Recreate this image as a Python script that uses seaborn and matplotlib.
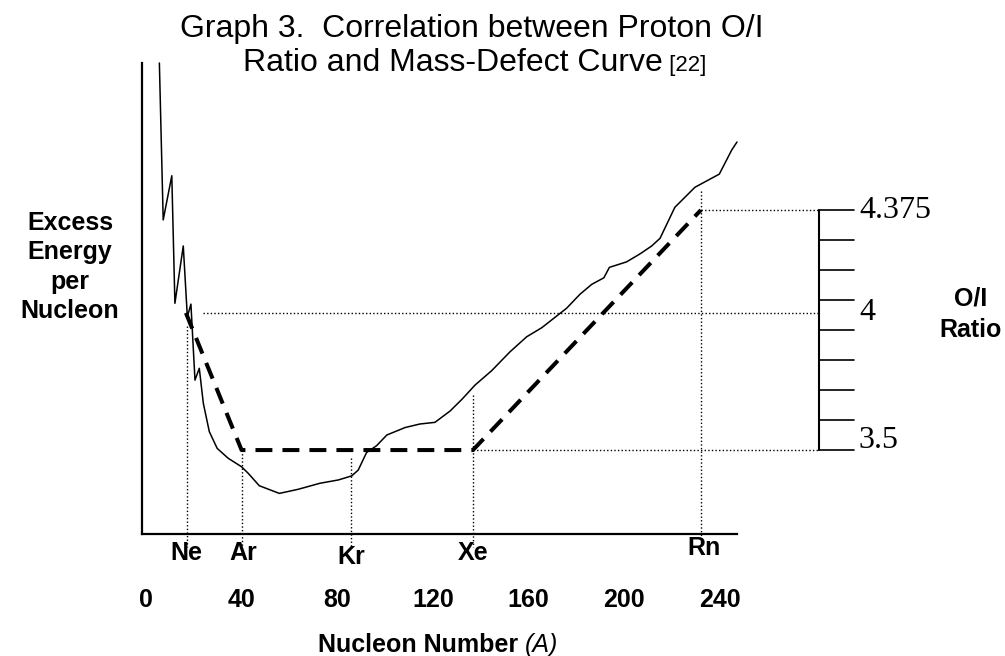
import matplotlib
matplotlib.use("Agg")
import matplotlib.pyplot as plt
import seaborn as sns
import pandas as pd

# ---- data ----
# mass-defect curve (nucleon number A, height expressed on the O/I-ratio scale)
curve_A = [5.6, 7.2, 10.8, 12.1, 15.6, 17.3, 18.8, 20.5, 22.3, 24.0, 26.5, 29.8,
           34.4, 40.0, 42.8, 47.4, 55.8, 63.7, 72.8, 80.5, 86.1, 88.8, 92.3, 96.5,
           100.8, 108.4, 114.6, 120.9, 127.2, 132.2, 137.7, 144.6, 152.3, 159.3,
           165.6, 176.0, 181.6, 186.5, 191.6, 193.9, 201.1, 206.7, 211.6, 215.1,
           221.3, 229.7, 239.9, 245.1, 247.3]
curve_E = [4.911, 4.339, 4.500, 4.035, 4.244, 3.986, 4.032, 3.755, 3.798, 3.670,
           3.567, 3.506, 3.470, 3.439, 3.415, 3.370, 3.342, 3.357, 3.379, 3.391,
           3.406, 3.427, 3.491, 3.516, 3.555, 3.582, 3.595, 3.601, 3.642, 3.685,
           3.737, 3.789, 3.858, 3.913, 3.946, 4.017, 4.068, 4.104, 4.128, 4.166,
           4.186, 4.215, 4.244, 4.272, 4.385, 4.458, 4.506, 4.594, 4.623]

# proton O/I ratio (dashed) at the noble gases
ratio_A = [16.7, 40.0, 136.8, 232.2]
ratio_val = [4.0, 3.5, 3.5, 4.375]

# noble gas markers
elements = ["Ne", "Ar", "Kr", "Xe", "Rn"]
element_A = [17.0, 40.0, 85.8, 137.0, 232.2]
element_top = [3.952, 3.5, 3.471, 3.70, 4.444]

x_ticks = [0, 40, 80, 120, 160, 200, 240]
ratio_ticks = [3.5 + k * 0.109375 for k in range(9)]
ratio_labels = {4.375: "4.375", 4.0: "4", 3.5: "3.5"}

# ---- figure ----
sns.set_theme(style="white")
plt.rcParams["font.family"] = ["Liberation Sans", "DejaVu Sans"]
plt.rcParams["text.color"] = "black"
plt.rcParams["xtick.color"] = "black"

W, H = 1005, 656
fig = plt.figure(figsize=(W / 100, H / 100), dpi=100)
ax = fig.add_axes([142 / W, 1 - 534 / H, (737 - 142) / W, (534 - 63) / H])
ax.set_xlim(-1.67, 247.3)
ax.set_ylim(3.194, 4.911)

for s in ["top", "right"]:
    ax.spines[s].set_visible(False)
for s in ["left", "bottom"]:
    ax.spines[s].set_color("black")
    ax.spines[s].set_linewidth(1.6)

df_curve = pd.DataFrame({"A": curve_A, "E": curve_E})
sns.lineplot(data=df_curve, x="A", y="E", ax=ax, color="black", lw=1.1,
             estimator=None, sort=False)
for l in ax.lines:
    l.set_clip_on(False)

df_ratio = pd.DataFrame({"A": ratio_A, "R": ratio_val})
sns.lineplot(data=df_ratio, x="A", y="R", ax=ax, color="black", lw=2.9,
             estimator=None, sort=False)
ax.lines[-1].set_dashes((4.2, 2.5))
ax.lines[-1].set_dash_capstyle("butt")

dot = dict(color="black", lw=1.0, linestyle=(0, (1, 1.6)), clip_on=False)
scale_x = 281.7
# vertical dotted guides
for a, top in zip(element_A, element_top):
    ax.plot([a, a], [top, 3.146], **dot)
# horizontal dotted guides to the ratio scale
ax.plot([element_A[4], scale_x], [4.375, 4.375], **dot)
ax.plot([23.8, scale_x], [4.0, 4.0], **dot)
ax.plot([element_A[3], scale_x], [3.5, 3.5], **dot)

# right-hand O/I ratio scale
ax.plot([scale_x, scale_x], [3.5, 4.375], color="black", lw=1.5, clip_on=False)
for t in ratio_ticks:
    ax.plot([scale_x, 296.3], [t, t], color="black", lw=1.2, clip_on=False)
for v, lab in ratio_labels.items():
    yy = v + (0.035 if v == 3.5 else 0.0)
    ax.text(298.3, yy, lab, ha="left", va="center", fontsize=23, color="black",
            family=["Liberation Serif", "DejaVu Serif"], clip_on=False)

# element labels
el_y = {"Ne": 3.125, "Ar": 3.125, "Kr": 3.11, "Xe": 3.125, "Rn": 3.142}
el_x = {"Ne": 16.7, "Ar": 40.8, "Kr": 85.8, "Xe": 137.0, "Rn": 233.4}
for e in elements:
    ax.text(el_x[e], el_y[e], e, ha="center", va="center", fontsize=18,
            fontweight="bold", color="black", clip_on=False)

# x tick labels (no tick marks)
ax.set_xticks(x_ticks)
ax.set_xticklabels([str(v) for v in x_ticks], fontsize=18, fontweight="bold")
ax.tick_params(axis="x", length=0, pad=39, colors="black")
ax.set_yticks([])
ax.set_xlabel("")
ax.set_ylabel("")

# axis titles
fig.text(70 / W, 1 - 267 / H, "Excess\nEnergy\nper\nNucleon", ha="center",
         va="center", fontsize=18, fontweight="bold", linespacing=1.27,
         color="black")
fig.text(971 / W, 1 - 314 / H, "O/I\nRatio", ha="center", va="center",
         fontsize=18, fontweight="bold", linespacing=1.38, color="black")
t1 = fig.text(318 / W, 1 - 645 / H, "Nucleon Number ", ha="left", va="center",
              fontsize=18, fontweight="bold", color="black")
ax.annotate("(A)", xy=(1, 0), xycoords=t1, ha="left", va="bottom",
            fontsize=18, style="italic", color="black", annotation_clip=False)

# title
fig.text(472 / W, 1 - 29 / H, "Graph 3.  Correlation between Proton O/I",
         ha="center", va="center", fontsize=23, color="black")
t2 = fig.text(663 / W, 1 - 63 / H, "Ratio and Mass-Defect Curve", ha="right",
              va="center", fontsize=23, color="black")
ax.annotate(" [22]", xy=(1, 0.08), xycoords=t2, ha="left", va="bottom",
            fontsize=16, color="black", annotation_clip=False)

fig.savefig("out.png", dpi=100, facecolor="white")
